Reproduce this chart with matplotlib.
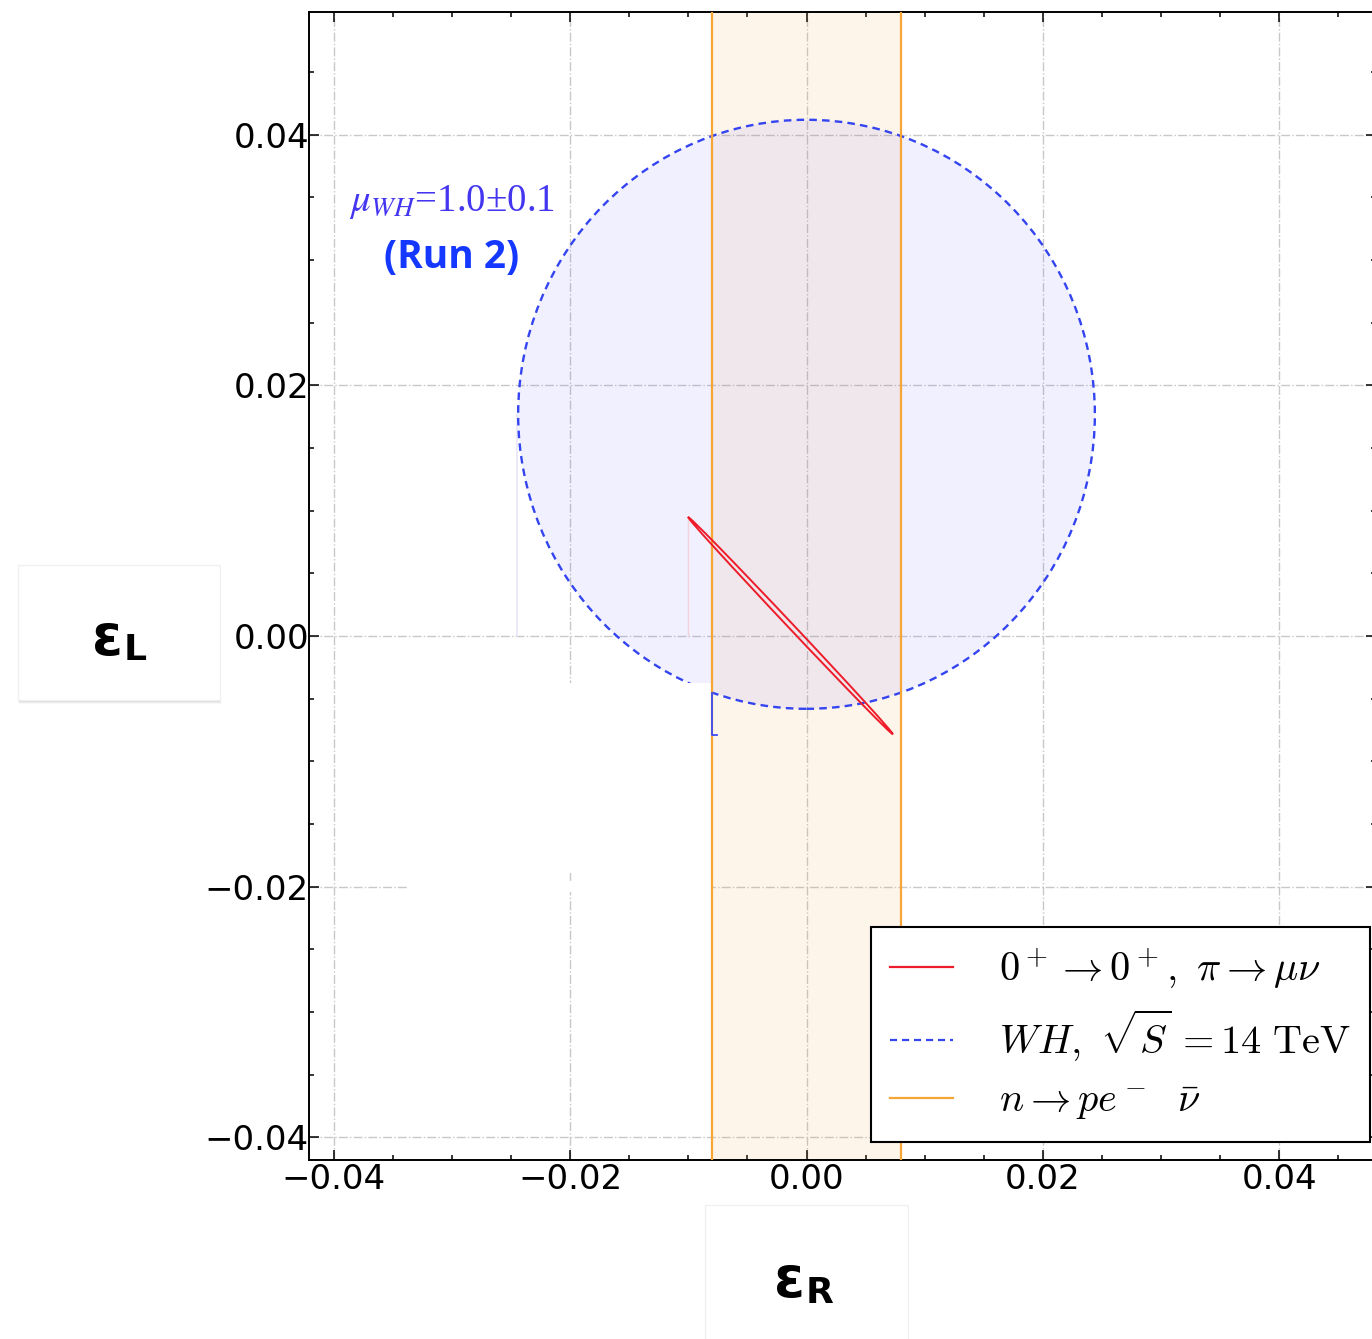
import numpy as np
import matplotlib.pyplot as plt
from matplotlib import rcParams
from matplotlib.patches import Ellipse, Rectangle
from matplotlib.lines import Line2D
from matplotlib.ticker import FixedLocator, MultipleLocator

rcParams['mathtext.fontset'] = 'cm'
rcParams['font.family'] = ['DejaVu Sans']

# bounds in (eps_R, eps_L)
xlim = (-0.0421, 0.0482)
ylim = (-0.0418, 0.0498)
major_ticks = [-0.04, -0.02, 0.0, 0.02, 0.04]
tick_labels = ['\u22120.04', '\u22120.02', '0.00', '0.02', '0.04']

# neutron decay band in eps_R
band_lo, band_hi = -0.008, 0.008

# WH at 14 TeV: ellipse centre and half widths
wh_center = (0.0, 0.0177)
wh_half = (0.0244, 0.0235)

# 0+ -> 0+, pi -> mu nu: thin tilted ellipse
sf_center = (-0.00136, 0.00084)
sf_half = (0.01225, 0.00021)
sf_angle = -45

labels = [r'$0^+ \rightarrow 0^+,\ \pi \rightarrow \mu\nu$',
          r'$WH,\ \sqrt{S}\,=14\ \mathrm{TeV}$',
          r'$n \rightarrow p e^-\ \ \bar{\nu}$']

red = '#ee1c2a'
blue = '#3344f0'
orange = '#f7a535'

fig = plt.figure(figsize=(13.72, 13.39), dpi=100)
ax = fig.add_axes([309/1372, 1 - 1160/1339, 1.003 - 309/1372, (1160 - 12)/1339])
ax.set_xlim(xlim)
ax.set_ylim(ylim)

ax.grid(True, color='#c8c8c8', linestyle='-.', linewidth=1.0, zorder=0)
ax.set_axisbelow(True)

# band
ax.axvspan(band_lo, band_hi, facecolor=orange, alpha=0.1, lw=0, zorder=1)
ax.axvline(band_lo, color=orange, lw=1.6, zorder=4)
ax.axvline(band_hi, color=orange, lw=1.6, zorder=4)

# WH region
ax.add_patch(Ellipse(wh_center, 2*wh_half[0], 2*wh_half[1],
                     facecolor=(0.2, 0.2, 1.0, 0.07), edgecolor='none', zorder=2))
ax.add_patch(Ellipse(wh_center, 2*wh_half[0], 2*wh_half[1],
                     facecolor='none', edgecolor=blue, lw=1.7,
                     linestyle=(0, (3.2, 2.2)), zorder=3))

# superallowed + pion
ax.add_patch(Ellipse(sf_center, 2*sf_half[0], 2*sf_half[1], angle=sf_angle,
                     facecolor='none', edgecolor=red, lw=1.4, zorder=5))

# faint rendering leftovers in the original
ax.plot([-0.0100, -0.0100], [0.0, 0.0093], color='#f3d3dc', lw=1, zorder=2)
ax.plot([-0.0245, -0.0245], [0.0, 0.0177], color='#e6e6fb', lw=1.2, zorder=2)

# white patches covering part of the grid
ax.add_patch(Rectangle((-0.0338, -0.0189), 0.0257, 0.01515,
                       facecolor='white', edgecolor='none', zorder=3.5))
ax.add_patch(Rectangle((-0.0338, -0.0204), 0.0257, 0.0008,
                       facecolor='white', edgecolor='none', zorder=3.5))
ax.plot([-0.0080, -0.0080, -0.0076], [-0.0045, -0.0079, -0.0079],
        color='#3a4cf5', lw=1.3, zorder=4)

ax.xaxis.set_major_locator(FixedLocator(major_ticks))
ax.yaxis.set_major_locator(FixedLocator(major_ticks))
ax.set_xticklabels(tick_labels)
ax.set_yticklabels(tick_labels)
ax.xaxis.set_minor_locator(MultipleLocator(0.005))
ax.yaxis.set_minor_locator(MultipleLocator(0.005))
ax.tick_params(which='both', direction='in', top=True, right=True, width=1.1)
ax.tick_params(which='major', length=7, labelsize=24.5)
ax.tick_params(which='minor', length=3.5)
ax.tick_params(axis='y', pad=0)
ax.tick_params(axis='x', pad=2)
for s in ax.spines.values():
    s.set_linewidth(1.4)

ax.text(-0.0300, 0.0339, r'$\mu_{WH}$=1.0' + '\u00b1' + '0.1',
        color='#4436f0', fontsize=28, family='Liberation Serif',
        math_fontfamily='stix', ha='center', va='baseline', zorder=6)
ax.text(-0.0300, 0.0294, '(Run 2)', color='#1438ff', fontsize=28,
        family='Open Sans', weight='bold', ha='center', va='baseline', zorder=6)

handles = [Line2D([], [], color=red, lw=1.6),
           Line2D([], [], color=blue, lw=1.6, linestyle=(0, (3.2, 2.2))),
           Line2D([], [], color=orange, lw=1.6)]
leg = ax.legend(handles, labels, loc='upper left',
                bbox_to_anchor=(871/1372, 1 - 927/1339),
                bbox_transform=fig.transFigure, borderaxespad=0,
                fontsize=29, handlelength=1.55, handletextpad=1.15,
                labelspacing=0.42, borderpad=0.48, fancybox=False,
                framealpha=1, edgecolor='black')
leg.get_frame().set_linewidth(1.5)
leg.set_zorder(10)

# axis label boxes
def label_box(x0, y0, x1, y1, sym, sub, xe, ye, xs, ys):
    w, h = (x1 - x0)/1372, (y1 - y0)/1339
    for k, a in [(4, 0.06), (3, 0.09), (2, 0.14)]:
        fig.patches.append(Rectangle((x0/1372 + k*0.2/1372, 1 - y1/1339 - k/1339), w, h,
                                     transform=fig.transFigure, facecolor='gray',
                                     alpha=a, edgecolor='none', zorder=1))
    fig.patches.append(Rectangle((x0/1372, 1 - y1/1339), w, h,
                                 transform=fig.transFigure, facecolor='white',
                                 edgecolor='#f0f0f0', lw=1, zorder=2))
    fig.text(xe/1372, 1 - ye/1339, sym, ha='right', va='baseline',
             fontsize=40, weight='bold', zorder=3)
    fig.text(xs/1372, 1 - ys/1339, sub, ha='left', va='baseline',
             fontsize=26, weight='bold', zorder=3)

label_box(18, 565, 220, 700, '\u03b5', 'L', 123, 655, 124, 660)
label_box(705, 1205, 908, 1345, '\u03b5', 'R', 805, 1297, 806, 1303)

fig.savefig('out.png', dpi=100)
